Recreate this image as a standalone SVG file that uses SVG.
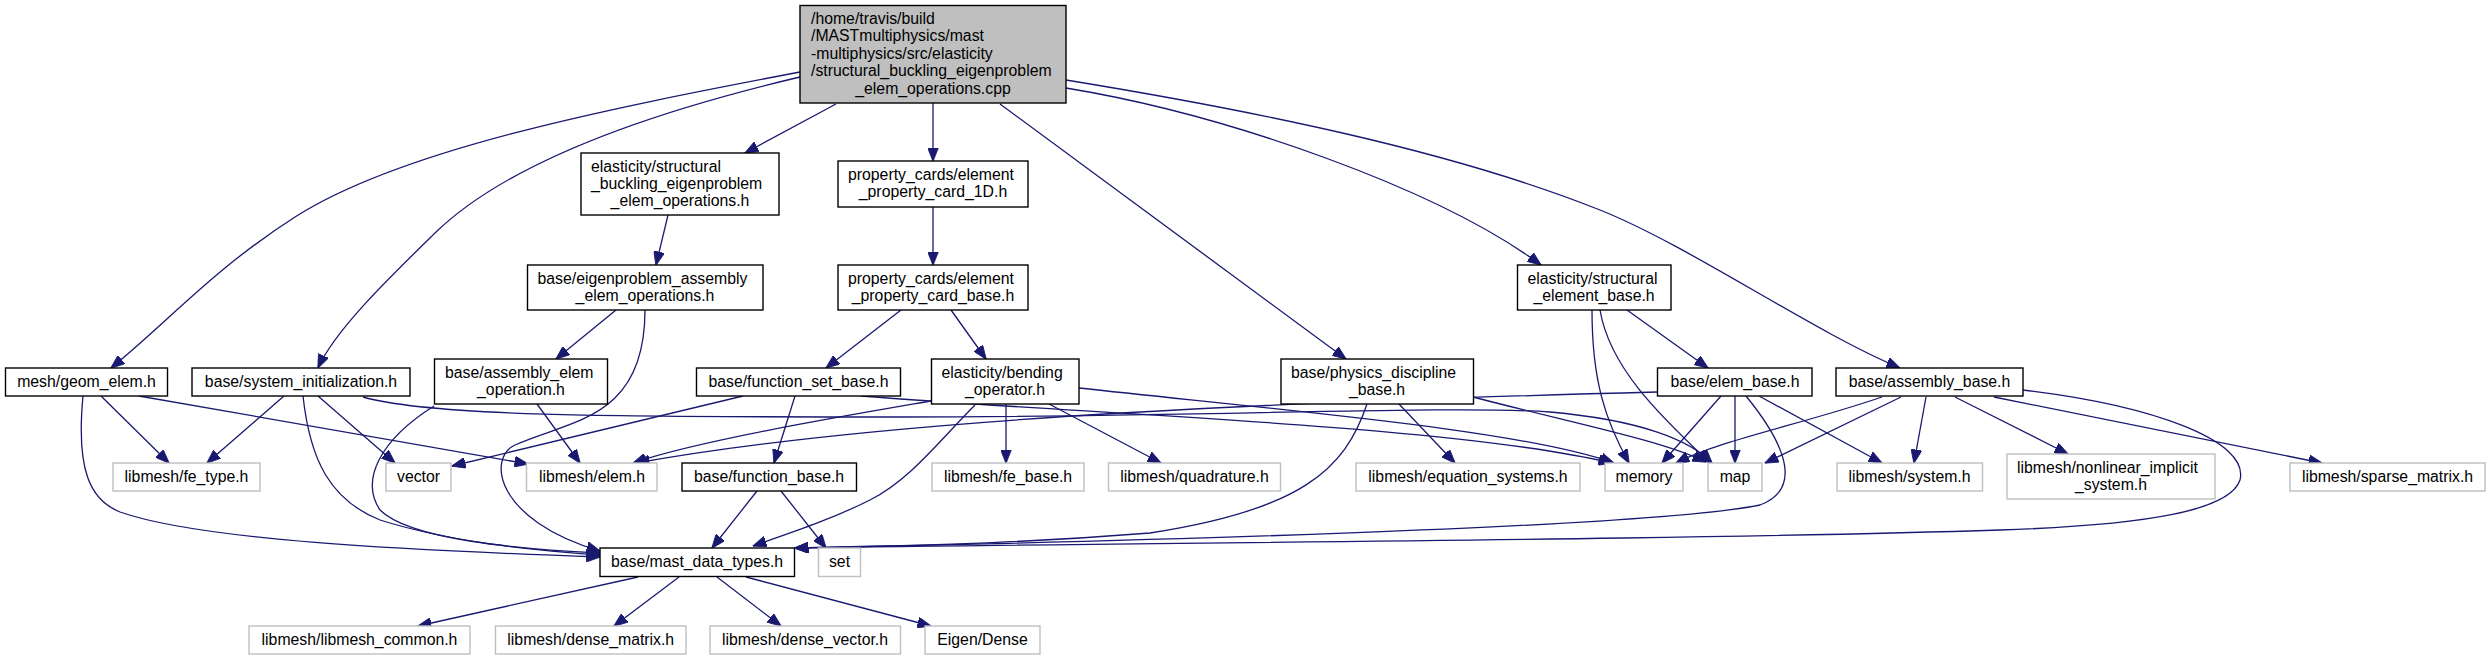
<svg xmlns="http://www.w3.org/2000/svg" width="2489" height="660" viewBox="0 0 2489 660">
<style>
text{font-family:"Liberation Sans",Arial,Helvetica,sans-serif;font-size:15.8px;fill:#000}
.c{text-anchor:middle}
.n rect{fill:#fff;stroke:#000;stroke-width:1.4}
.x rect{fill:#fff;stroke:#bfbfbf;stroke-width:1.4}
.m rect{fill:#bfbfbf;stroke:#000;stroke-width:1.4}
#edges path{fill:none;stroke:#191970;stroke-width:1.3;marker-end:url(#a)}
</style>
<defs>
<marker id="a" markerWidth="14" markerHeight="11" refX="13.5" refY="5.5" orient="auto" markerUnits="userSpaceOnUse">
<path d="M0,0 L14,5.5 L0,11 z" fill="#191970" stroke="#191970" stroke-width="0.8"/>
</marker>
</defs>
<rect width="2489" height="660" fill="#fff"/>
<g id="edges">
<path d="M836,104 L745,153"/>
<path d="M933,103 L933,161"/>
<path d="M800,72 C600,110 400,150 295,217 C211,271 170,320 111,368"/>
<path d="M800,77 C660,110 510,160 435,233 C390,277 335,330 318,368"/>
<path d="M1000,104 L1346,359"/>
<path d="M1066,88 C1230,115 1440,190 1541,265"/>
<path d="M1066,80 C1250,110 1450,150 1600,210 C1690,246 1810,330 1900,368"/>
<path d="M668,215 L656,265"/>
<path d="M933,207 L933,265"/>
<path d="M616,310 L556,359"/>
<path d="M645,310 C645,420 570,420 515,445 C487,458 495,520 600,551"/>
<path d="M901,310 L826,368"/>
<path d="M951,310 L986,359"/>
<path d="M1592,310 C1592,380 1605,420 1629,463"/>
<path d="M1600,310 C1610,370 1665,420 1710,463"/>
<path d="M1627,310 L1708,368"/>
<path d="M101,396 L169,463"/>
<path d="M139,396 L528,464"/>
<path d="M83,396 C76,470 90,500 120,512 C200,540 400,550 600,557"/>
<path d="M284,396 L207,463"/>
<path d="M318,396 L395,463"/>
<path d="M303,396 C310,460 330,500 380,520 C450,542 530,550 600,555"/>
<path d="M363,397 C430,416 600,417 900,417 C1200,417 1450,405 1550,412 C1640,420 1690,440 1712,463"/>
<path d="M537,404 L580,463"/>
<path d="M434,406 C380,440 360,480 380,510 C410,540 520,549 600,553"/>
<path d="M743,396 L452,466"/>
<path d="M795,396 L774,463"/>
<path d="M861,396 C1100,415 1450,425 1612,463"/>
<path d="M757,491 L712,548"/>
<path d="M781,491 L826,548"/>
<path d="M931,401 C850,415 700,440 633,463"/>
<path d="M975,405 C940,440 910,480 870,500 C830,520 790,533 753,546"/>
<path d="M1006,404 L1006,463"/>
<path d="M1049,404 L1161,463"/>
<path d="M1079,388 C1300,412 1520,430 1614,463"/>
<path d="M1399,404 L1455,463"/>
<path d="M1367,404 C1345,470 1300,510 1150,533 C1000,545 900,545 795,548"/>
<path d="M1473,397 C1580,425 1660,440 1706,462"/>
<path d="M1657,392 C1350,400 900,415 636,463"/>
<path d="M1721,396 L1662,463"/>
<path d="M1735,396 L1735,463"/>
<path d="M1759,396 L1882,463"/>
<path d="M1746,396 C1790,450 1800,490 1760,505 C1650,528 1100,542 795,548"/>
<path d="M1882,397 C1800,425 1720,440 1676,463"/>
<path d="M1901,397 L1765,463"/>
<path d="M1926,397 L1914,463"/>
<path d="M1955,397 L2068,454"/>
<path d="M1994,397 L2322,463"/>
<path d="M2023,390 C2150,405 2250,440 2240,480 C2230,510 2150,525 2000,530 C1700,540 1100,543 795,548"/>
<path d="M638,577 L418,626"/>
<path d="M679,577 L614,626"/>
<path d="M717,577 L781,626"/>
<path d="M746,577 L931,626"/>
</g>
<g id="main" class="m"><rect x="800" y="5.5" width="266" height="97.5"/>
<text x="811" y="24">/home/travis/build</text>
<text x="811" y="41.4">/MASTmultiphysics/mast</text>
<text x="811" y="58.8">-multiphysics/src/elasticity</text>
<text x="811" y="76.2">/structural_buckling_eigenproblem</text>
<text x="933" y="93.6" class="c">_elem_operations.cpp</text></g>
<g id="n_sbeo" class="n"><rect x="581" y="153" width="198" height="62"/>
<text x="591" y="171.5">elasticity/structural</text>
<text x="591" y="188.9">_buckling_eigenproblem</text>
<text x="680" y="206.3" class="c">_elem_operations.h</text></g>
<g id="n_epc1d" class="n"><rect x="838" y="161" width="190" height="46"/>
<text x="848" y="179.5">property_cards/element</text>
<text x="933" y="196.9" class="c">_property_card_1D.h</text></g>
<g id="n_eaeo" class="n"><rect x="527.5" y="265" width="235.5" height="45"/>
<text x="537.5" y="283.5">base/eigenproblem_assembly</text>
<text x="645" y="300.9" class="c">_elem_operations.h</text></g>
<g id="n_epcb" class="n"><rect x="838" y="265" width="190" height="45"/>
<text x="848" y="283.5">property_cards/element</text>
<text x="933" y="300.9" class="c">_property_card_base.h</text></g>
<g id="n_seb" class="n"><rect x="1517.5" y="265" width="153.5" height="45"/>
<text x="1527.5" y="283.5">elasticity/structural</text>
<text x="1594" y="300.9" class="c">_element_base.h</text></g>
<g id="n_geom" class="n"><rect x="5.5" y="368" width="162" height="28"/>
<text x="86.5" y="387" class="c">mesh/geom_elem.h</text></g>
<g id="n_sysinit" class="n"><rect x="192" y="368" width="218" height="28"/>
<text x="301" y="387" class="c">base/system_initialization.h</text></g>
<g id="n_aeo" class="n"><rect x="434.5" y="359" width="173" height="45"/>
<text x="445" y="377.5">base/assembly_elem</text>
<text x="521" y="394.9" class="c">_operation.h</text></g>
<g id="n_fsb" class="n"><rect x="696.5" y="368" width="204" height="28"/>
<text x="798.5" y="387" class="c">base/function_set_base.h</text></g>
<g id="n_bend" class="n"><rect x="931.5" y="359" width="147.5" height="45"/>
<text x="941.5" y="377.5">elasticity/bending</text>
<text x="1005" y="394.9" class="c">_operator.h</text></g>
<g id="n_phys" class="n"><rect x="1281" y="359" width="192.5" height="45"/>
<text x="1291" y="377.5">base/physics_discipline</text>
<text x="1377" y="394.9" class="c">_base.h</text></g>
<g id="n_elembase" class="n"><rect x="1657.5" y="368" width="154.5" height="28"/>
<text x="1735" y="387" class="c">base/elem_base.h</text></g>
<g id="n_asmbase" class="n"><rect x="1836" y="368" width="187" height="28"/>
<text x="1929.5" y="387" class="c">base/assembly_base.h</text></g>
<g id="x_fetype" class="x"><rect x="113" y="463" width="147" height="28"/>
<text x="186.5" y="482" class="c">libmesh/fe_type.h</text></g>
<g id="x_vector" class="x"><rect x="386" y="463" width="65" height="28"/>
<text x="418.5" y="482" class="c">vector</text></g>
<g id="x_elem" class="x"><rect x="526.5" y="463" width="130.5" height="28"/>
<text x="592" y="482" class="c">libmesh/elem.h</text></g>
<g id="n_fb" class="n"><rect x="682" y="463" width="174.5" height="28"/>
<text x="769" y="482" class="c">base/function_base.h</text></g>
<g id="x_febase" class="x"><rect x="932" y="463" width="152" height="28"/>
<text x="1008" y="482" class="c">libmesh/fe_base.h</text></g>
<g id="x_quad" class="x"><rect x="1108.5" y="463" width="172" height="28"/>
<text x="1194.5" y="482" class="c">libmesh/quadrature.h</text></g>
<g id="x_eqsys" class="x"><rect x="1356" y="463" width="224" height="28"/>
<text x="1468" y="482" class="c">libmesh/equation_systems.h</text></g>
<g id="x_memory" class="x"><rect x="1605" y="463" width="78" height="28"/>
<text x="1644" y="482" class="c">memory</text></g>
<g id="x_map" class="x"><rect x="1708" y="463" width="54" height="28"/>
<text x="1735" y="482" class="c">map</text></g>
<g id="x_system" class="x"><rect x="1837" y="463" width="145.5" height="28"/>
<text x="1909.5" y="482" class="c">libmesh/system.h</text></g>
<g id="x_nlis" class="x"><rect x="2007" y="454" width="208" height="45"/>
<text x="2017" y="472.5">libmesh/nonlinear_implicit</text>
<text x="2111" y="489.9" class="c">_system.h</text></g>
<g id="x_sparse" class="x"><rect x="2290" y="463" width="195" height="28"/>
<text x="2387.5" y="482" class="c">libmesh/sparse_matrix.h</text></g>
<g id="n_mast" class="n"><rect x="600" y="548" width="194.5" height="28.5"/>
<text x="697" y="567" class="c">base/mast_data_types.h</text></g>
<g id="x_set" class="x"><rect x="818.5" y="548" width="42" height="28.5"/>
<text x="839.5" y="567" class="c">set</text></g>
<g id="x_common" class="x"><rect x="249" y="626" width="221" height="28"/>
<text x="359.5" y="645" class="c">libmesh/libmesh_common.h</text></g>
<g id="x_dmat" class="x"><rect x="495.5" y="626" width="190.5" height="28"/>
<text x="590.75" y="645" class="c">libmesh/dense_matrix.h</text></g>
<g id="x_dvec" class="x"><rect x="710" y="626" width="190.5" height="28"/>
<text x="805" y="645" class="c">libmesh/dense_vector.h</text></g>
<g id="x_eigen" class="x"><rect x="925" y="626" width="115" height="28"/>
<text x="982.5" y="645" class="c">Eigen/Dense</text></g>
</svg>
